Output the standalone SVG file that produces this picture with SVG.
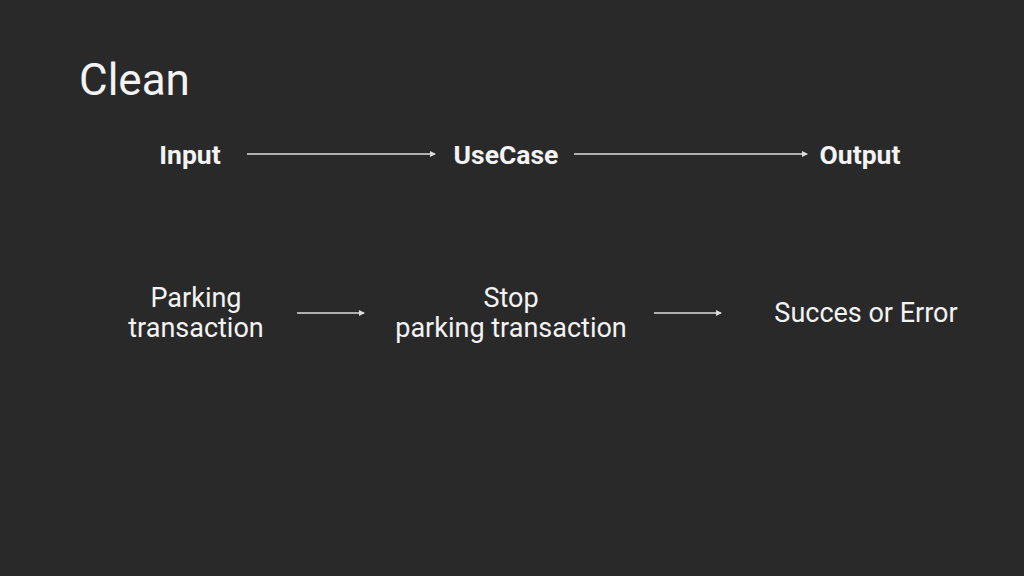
<svg xmlns="http://www.w3.org/2000/svg" width="1024" height="576" viewBox="0 0 1024 576">
<defs>
<style>
.t{font-family:Roboto,"Liberation Sans",sans-serif;fill:#f3f3f3;text-anchor:middle}
.h{font-size:26.5px;font-weight:bold}
.r{font-size:27px}
.c{stroke:#dcdcdc;stroke-width:1.5;fill:none}
</style>
<marker id="ah" viewBox="0 0 6 6" refX="5" refY="3" markerWidth="6" markerHeight="6" markerUnits="userSpaceOnUse" orient="auto">
<path d="M0,0 L6,3 L0,6 Z" fill="#dcdcdc"/>
</marker>
</defs>
<rect width="1024" height="576" fill="#292929"/>
<text x="79" y="95" font-family="Roboto,'Liberation Sans',sans-serif" font-size="44" fill="#f3f3f3">Clean</text>
<g id="input"><text class="t h" x="190" y="164">Input</text></g>
<g id="usecase"><text class="t h" x="506" y="164">UseCase</text></g>
<g id="output"><text class="t h" x="860" y="164">Output</text></g>
<g id="parking"><text class="t r" x="196" y="307">Parking</text><text class="t r" x="196" y="337">transaction</text></g>
<g id="stop"><text class="t r" x="511" y="307">Stop</text><text class="t r" x="511" y="337">parking transaction</text></g>
<g id="result"><text class="t r" x="866" y="322">Succes or Error</text></g>
<g id="connectors">
<line class="c" x1="247" y1="154" x2="435" y2="154" marker-end="url(#ah)"/>
<line class="c" x1="574" y1="154" x2="807" y2="154" marker-end="url(#ah)"/>
<line class="c" x1="297" y1="313" x2="364" y2="313" marker-end="url(#ah)"/>
<line class="c" x1="654" y1="313" x2="721" y2="313" marker-end="url(#ah)"/>
</g>
</svg>
